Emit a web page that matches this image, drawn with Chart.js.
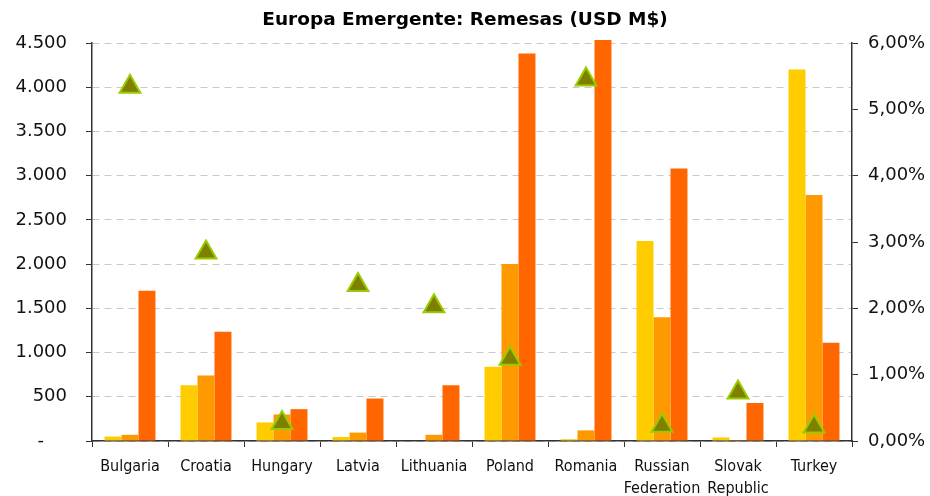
<!DOCTYPE html>
<html><head><meta charset="utf-8">
<script src="https://cdn.jsdelivr.net/npm/chart.js@4/dist/chart.umd.min.js"></script>
<style>html,body{margin:0;padding:0;background:#fff}#w{width:930px;height:496px}</style>
</head><body><div id="w"><canvas id="c"></canvas></div>
<script>
const categories = ["Bulgaria","Croatia","Hungary","Latvia","Lithuania","Poland","Romania",["Russian","Federation"],["Slovak","Republic"],"Turkey"];
const series1 = [50, 630, 210, 45, 0, 840, 20, 2260, 40, 4200];
const series2 = [70, 740, 300, 95, 70, 2000, 120, 1400, 10, 2780];
const series3 = [1700, 1235, 360, 480, 630, 4380, 4535, 3080, 430, 1110];
const sharePct = [5.34, 2.84, 0.27, 2.35, 2.03, 1.24, 5.45, 0.23, 0.73, 0.22];
const leftTicks = {min:0, max:4500, step:500};
const rightTicks = {min:0, max:6, step:1};

const yFont = {family:"'DejaVu Sans', Verdana, sans-serif", size:18};
const xFont = {family:"'DejaVu Sans Condensed', 'DejaVu Sans', sans-serif", size:16, lineHeight:1.35};
new Chart(document.getElementById('c'), {
  type:'bar',
  data:{labels:categories, datasets:[
    {type:'line', data:sharePct, yAxisID:'y1', showLine:false, pointStyle:'triangle', pointRadius:12, pointHoverRadius:12,
     backgroundColor:'#808000', borderColor:'#99CC00', borderWidth:2, order:0, clip:false},
    {data:series1, backgroundColor:'#FFCC00', yAxisID:'y', order:1, clip:false},
    {data:series2, backgroundColor:'#FF9900', yAxisID:'y', order:1, clip:false},
    {data:series3, backgroundColor:'#FF6600', yAxisID:'y', order:1, clip:false}
  ]},
  options:{
    responsive:true, maintainAspectRatio:false, animation:false,
    layout:{padding:{top:9,left:0,right:0,bottom:0}},
    datasets:{bar:{categoryPercentage:0.67, barPercentage:1.0}},
    plugins:{legend:{display:false}, tooltip:{enabled:false},
      title:{display:true, text:'Europa Emergente: Remesas (USD M$)', color:'#000',
        font:{family:"'DejaVu Sans', Verdana, sans-serif", size:18.5, weight:'bold', lineHeight:1.2}, padding:{top:0,bottom:11.8}}},
    scales:{
      x:{grid:{offset:true, drawOnChartArea:false, tickLength:6, color:'#333', tickColor:'#333'},
         border:{color:'#333', width:1.5},
         ticks:{color:'#111', font:xFont, padding:9, maxRotation:0, autoSkip:false},
         afterFit:s=>{s.height=55;}},
      y:{position:'left', min:leftTicks.min, max:leftTicks.max,
         ticks:{stepSize:leftTicks.step, color:'#111', font:yFont, padding:19,
           callback:v=> v===0 ? '-    ' : v.toLocaleString('de-DE')},
         grid:{color:'#c8c8c8', tickColor:'#333', tickLength:6, lineWidth:1, tickBorderDash:[]},
         border:{color:'#333', width:1.5, dash:[7,5]},
         afterFit:s=>{s.width=92;}},
      y1:{position:'right', min:rightTicks.min, max:rightTicks.max,
         ticks:{stepSize:rightTicks.step, color:'#111', font:yFont, padding:10,
           callback:v=> v.toFixed(2).replace('.',',')+'%'},
         grid:{drawOnChartArea:false, color:'#333', tickLength:6},
         border:{color:'#333', width:1.5},
         afterFit:s=>{s.width=78;}}
    }
  }
});
</script></body></html>
